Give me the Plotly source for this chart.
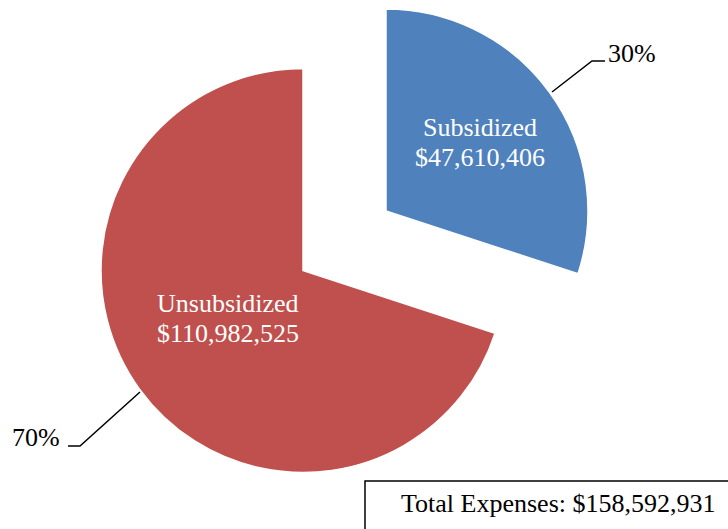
import plotly.graph_objects as go

# ---- data ----
labels = ["Subsidized", "Unsubsidized"]
values = [47610406, 110982525]
colors = ["#4F81BD", "#C0504D"]
total_label = "Total Expenses"

W, H = 728, 529
R = 202  # pie radius in px
FONT = "Liberation Serif, Times New Roman, serif"
FS = 26


def px_x(x):
    return x / W


def px_y(y):
    return 1 - y / H


def domain(cx, cy, r):
    return dict(x=[px_x(cx - r), px_x(cx + r)], y=[px_y(cy + r), px_y(cy - r)])


total = sum(values)
pcts = [round(v / total * 100) for v in values]

fig = go.Figure()

# main pie (unsubsidized visible)
fig.add_trace(go.Pie(
    labels=labels, values=values, sort=False, direction="clockwise", rotation=0,
    marker=dict(colors=["rgba(0,0,0,0)", colors[1]],
                line=dict(color=["rgba(0,0,0,0)", "white"], width=[0, 1.5])),
    textinfo="none", hoverinfo="label+value+percent", showlegend=False,
    domain=domain(303, 270.5, R),
))
# exploded slice (subsidized)
fig.add_trace(go.Pie(
    labels=labels, values=values, sort=False, direction="clockwise", rotation=0,
    marker=dict(colors=[colors[0], "rgba(0,0,0,0)"],
                line=dict(color=["white", "rgba(0,0,0,0)"], width=[1.5, 0])),
    textinfo="none", hoverinfo="label+value+percent", showlegend=False,
    domain=domain(386, 211, R),
))

annotations = []


def add_text(x, y, text, color, xanchor="center"):
    annotations.append(dict(
        x=px_x(x), y=px_y(y), xref="paper", yref="paper",
        text=text, showarrow=False,
        font=dict(family=FONT, size=FS, color=color),
        xanchor=xanchor, yanchor="middle",
    ))


# inside labels (name line, value line)
inside_pos = [(480, 128, 157.5), (228, 303.5, 333)]
for lab, val, (x, y1, y2) in zip(labels, values, inside_pos):
    add_text(x, y1, lab, "white")
    add_text(x, y2, f"${val:,}", "white")

# percentage labels
add_text(606, 54, f"{pcts[0]}%", "black", xanchor="left")
add_text(62, 437, f"{pcts[1]}%", "black", xanchor="right")

# total box text
add_text(558, 503, f"{total_label}: ${total:,}", "black")


def path(points):
    return "M " + " L ".join(f"{px_x(x)},{px_y(y)}" for x, y in points)


shapes = [
    dict(type="path", xref="paper", yref="paper",
         path=path([(552, 92), (592, 61), (605, 61)]),
         line=dict(color="black", width=1.5)),
    dict(type="path", xref="paper", yref="paper",
         path=path([(140, 392), (80, 446), (68, 446)]),
         line=dict(color="black", width=1.5)),
    dict(type="rect", xref="paper", yref="paper",
         x0=px_x(365), x1=px_x(745), y0=px_y(545), y1=px_y(481),
         line=dict(color="black", width=1.5), fillcolor="white"),
]

fig.update_layout(
    width=W, height=H,
    margin=dict(l=0, r=0, t=0, b=0),
    paper_bgcolor="white", plot_bgcolor="white",
    annotations=annotations, shapes=shapes,
)

fig.write_html("out.html",
               config={"displayModeBar": False},
               post_script="document.body.style.margin='0';document.body.style.overflow='hidden';")
